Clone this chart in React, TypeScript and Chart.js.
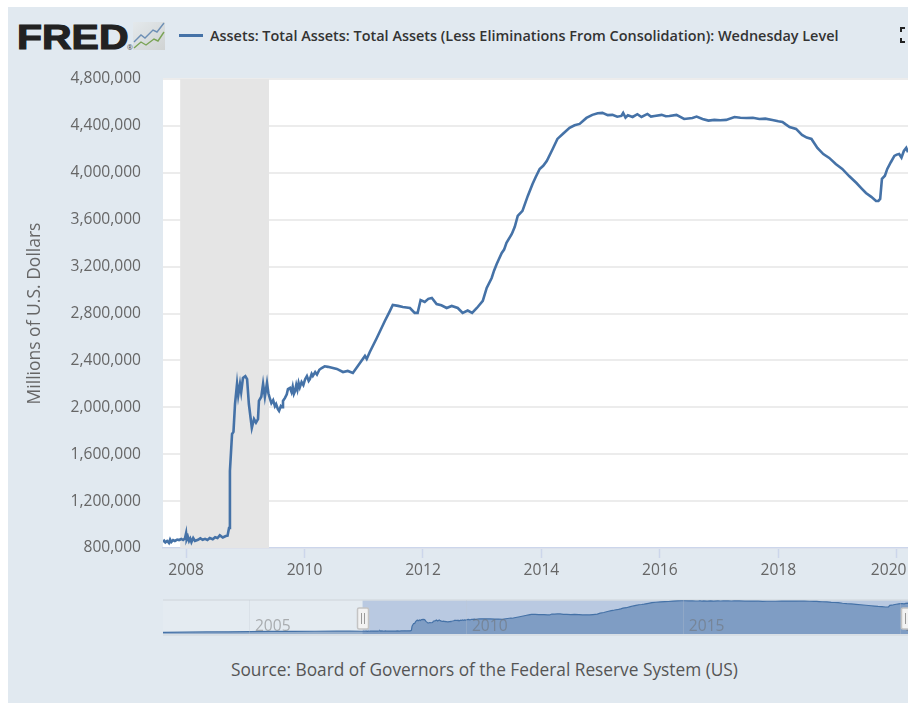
import React, { useEffect, useRef } from "react";
import { Chart, registerables } from "chart.js";

Chart.register(...registerables);

const legendText = "Assets: Total Assets: Total Assets (Less Eliminations From Consolidation): Wednesday Level";
const sourceText = "Source: Board of Governors of the Federal Reserve System (US)";
const yAxisTitle = "Millions of U.S. Dollars";
const logoText = "FRED";

const years = [
  2007.61, 2007.63, 2007.65, 2007.68, 2007.71, 2007.73, 2007.75, 2007.78, 2007.81, 2007.85, 2007.88, 2007.92, 2007.95, 2007.98, 2008.0, 2008.01, 2008.03, 2008.05, 2008.07, 2008.09,
  2008.12, 2008.15, 2008.2, 2008.24, 2008.28, 2008.32, 2008.36, 2008.4, 2008.45, 2008.49, 2008.53, 2008.57, 2008.62, 2008.67, 2008.7, 2008.725, 2008.74, 2008.776, 2008.8, 2008.826,
  2008.86, 2008.88, 2008.91, 2008.93, 2008.96, 2009.0, 2009.03, 2009.06, 2009.11, 2009.147, 2009.18, 2009.214, 2009.23, 2009.27, 2009.3, 2009.33, 2009.366, 2009.39,
  2009.417, 2009.44, 2009.47, 2009.5, 2009.52, 2009.55, 2009.57, 2009.6, 2009.62, 2009.636, 2009.67, 2009.7, 2009.72, 2009.754, 2009.78, 2009.8, 2009.82, 2009.84, 2009.86, 2009.88, 2009.9, 2009.92, 2009.95, 2009.98,
  2010.01, 2010.04, 2010.07, 2010.09, 2010.12, 2010.14, 2010.18, 2010.21, 2010.25, 2010.29, 2010.34, 2010.395, 2010.546, 2010.65,
  2010.73, 2010.816, 2010.9, 2011.02, 2011.05, 2011.1, 2011.22, 2011.356, 2011.43, 2011.49, 2011.58, 2011.66, 2011.78, 2011.86, 2011.91, 2011.96, 2012.03, 2012.09, 2012.15, 2012.23,
  2012.31, 2012.4, 2012.485, 2012.587, 2012.67, 2012.755, 2012.83, 2012.91, 2013.01, 2013.076, 2013.16, 2013.2, 2013.245, 2013.33, 2013.37, 2013.41, 2013.5, 2013.55, 2013.6, 2013.68,
  2013.77, 2013.85, 2013.9, 2013.97, 2014.03, 2014.09, 2014.19, 2014.27, 2014.36, 2014.475, 2014.56, 2014.645, 2014.76, 2014.86, 2014.95, 2015.03, 2015.12, 2015.2, 2015.28, 2015.35,
  2015.38, 2015.42, 2015.46, 2015.54, 2015.62, 2015.69, 2015.79, 2015.85, 2015.91, 2016.03, 2016.1, 2016.16, 2016.28, 2016.41, 2016.55, 2016.62, 2016.72, 2016.82, 2016.92, 2017.02,
  2017.12, 2017.26, 2017.36, 2017.46, 2017.57, 2017.68, 2017.78, 2017.9, 2018.0, 2018.07, 2018.12, 2018.19, 2018.3, 2018.4, 2018.48, 2018.56, 2018.66, 2018.76, 2018.86, 2018.97,
  2019.08, 2019.2, 2019.32, 2019.4, 2019.48, 2019.57, 2019.65, 2019.69, 2019.72, 2019.75, 2019.8, 2019.84, 2019.9, 2019.96, 2020.0, 2020.04, 2020.08, 2020.12, 2020.16, 2020.19,
];

const assets = [
  851000, 862000, 848000, 860000, 843000, 872000, 851000, 868000, 860000, 872000, 868000, 877000, 868000, 880000, 925000, 872000, 895000, 860000, 880000, 850000,
  885000, 860000, 870000, 882000, 870000, 878000, 868000, 885000, 875000, 892000, 885000, 908000, 890000, 902000, 905000, 971000, 1457000, 1772000, 1790000, 2028000,
  2199000, 2100000, 2199000, 2130000, 2250000, 2265000, 2240000, 2028000, 1824000, 1900000, 1870000, 1900000, 2054000, 2090000, 2199000, 2090000, 2207000, 2120000,
  2071000, 2035000, 2060000, 2010000, 2028000, 1985000, 1969000, 2010000, 2000000, 2054000, 2080000, 2110000, 2156000, 2165000, 2130000, 2175000, 2115000, 2139000, 2190000, 2150000, 2207000, 2170000, 2215000, 2190000,
  2240000, 2267000, 2225000, 2240000, 2285000, 2267000, 2300000, 2280000, 2320000, 2335000, 2350000, 2345000, 2327000, 2301000,
  2310000, 2293000, 2352000, 2438000, 2412000, 2470000, 2591000, 2736000, 2810000, 2873000, 2865000, 2856000, 2847000, 2805000, 2805000, 2915000, 2898000, 2925000, 2933000, 2881000,
  2870000, 2847000, 2864000, 2847000, 2805000, 2825000, 2805000, 2847000, 2907000, 3018000, 3103000, 3165000, 3223000, 3316000, 3345000, 3402000, 3478000, 3540000, 3632000, 3675000,
  3803000, 3905000, 3960000, 4033000, 4060000, 4101000, 4203000, 4289000, 4331000, 4383000, 4405000, 4417000, 4468000, 4494000, 4508000, 4511000, 4492000, 4494000, 4478000, 4485000,
  4510000, 4470000, 4490000, 4476000, 4500000, 4476000, 4502000, 4480000, 4485000, 4494000, 4482000, 4485000, 4494000, 4459000, 4468000, 4480000, 4459000, 4445000, 4451000, 4448000,
  4451000, 4476000, 4470000, 4468000, 4470000, 4459000, 4462000, 4451000, 4440000, 4434000, 4415000, 4391000, 4374000, 4323000, 4300000, 4289000, 4212000, 4160000, 4127000, 4075000,
  4033000, 3970000, 3913000, 3870000, 3828000, 3795000, 3760000, 3760000, 3777000, 3948000, 3975000, 4033000, 4090000, 4144000, 4155000, 4161000, 4130000, 4186000, 4212000, 4175000,
];

const earlyYears = [2003.0, 2003.5, 2004.0, 2004.5, 2005.0, 2005.5, 2006.0, 2006.5, 2007.0, 2007.3];
const earlyAssets = [725000, 745000, 770000, 785000, 810000, 825000, 840000, 850000, 865000, 860000];

const recessionStart = 2007.9;
const recessionEnd = 2009.4;
const mainMinYear = 2007.61;
const mainMaxYear = 2020.19;
const navMinYear = 2003.0;
const navMaxYear = 2020.17;
const selectStart = 2007.6;
const selectEnd = 2020.14;
const lastYearTick = 2020;

const toXY = (xs: number[], ys: number[]) => xs.map((x, i) => ({ x, y: ys[i] }));

const font = '"Open Sans", sans-serif';
const LINE = "#4572a7";

export default function App() {
  const mainRef = useRef<HTMLCanvasElement | null>(null);
  const navRef = useRef<HTMLCanvasElement | null>(null);

  useEffect(() => {
    const bandPlugin = {
      id: "band",
      beforeDraw(c: any) {
        const a = c.chartArea;
        c.ctx.save();
        c.ctx.fillStyle = "#ffffff";
        c.ctx.fillRect(a.left, a.top, a.right - a.left, a.bottom - a.top);
        c.ctx.restore();
      },
      beforeDatasetsDraw(c: any) {
        const a = c.chartArea;
        const x0 = c.scales.x.getPixelForValue(recessionStart);
        const x1 = c.scales.x.getPixelForValue(recessionEnd);
        c.ctx.save();
        c.ctx.fillStyle = "#e5e5e5";
        c.ctx.fillRect(x0, a.top, x1 - x0, a.bottom - a.top);
        c.ctx.restore();
      },
    };

    const main = new Chart(mainRef.current!, {
      type: "line",
      data: {
        datasets: [
          {
            data: toXY(years, assets),
            borderColor: LINE,
            borderWidth: 2.6,
            pointRadius: 0,
            tension: 0,
            fill: false,
          },
        ],
      },
      options: {
        animation: false,
        responsive: false,
        parsing: false,
        layout: { padding: { top: 79, right: 0, left: 0, bottom: 0 } },
        plugins: { legend: { display: false }, tooltip: { enabled: false } },
        scales: {
          x: {
            type: "linear",
            min: mainMinYear,
            max: mainMaxYear,
            afterFit: (s: any) => {
              s.height = 42;
              s.paddingLeft = 0;
              s.paddingRight = 0;
            },
            ticks: {
              stepSize: 2,
              includeBounds: false,
              maxRotation: 0,
              padding: 3,
              color: "#666666",
              font: { family: font, size: 15.6 },
              // the last label is kept inside the plot's right edge, as in the reference
              callback: (v: any) => (v === lastYearTick ? String(v) + "\u00a0\u00a0\u00a0\u00a0" : String(v)),
            },
            grid: { drawOnChartArea: false, tickLength: 10, tickColor: "#ccd6eb", tickWidth: 1.5 },
            border: { color: "#ccd6eb", width: 1.5 },
          },
          y: {
            type: "linear",
            min: 800000,
            max: 4800000,
            afterFit: (s: any) => {
              s.width = 163;
            },
            title: {
              display: true,
              text: yAxisTitle,
              color: "#666666",
              font: { family: font, size: 17.5 },
              padding: { top: 25, bottom: 0 },
            },
            ticks: {
              stepSize: 400000,
              padding: 22,
              color: "#666666",
              font: { family: font, size: 15.6 },
              callback: (v: any) => Number(v).toLocaleString("en-US"),
            },
            grid: { color: "#ececec", lineWidth: 2, drawTicks: false },
            border: { display: false },
          },
        },
      },
      plugins: [bandPlugin],
    } as any);

    const navPlugin = {
      id: "navMask",
      beforeDatasetsDraw(c: any) {
        const a = c.chartArea;
        const x0 = c.scales.x.getPixelForValue(selectStart);
        const ctx = c.ctx;
        ctx.save();
        ctx.fillStyle = "rgba(255,255,255,0.12)";
        ctx.fillRect(a.left, a.top, x0 - a.left, a.bottom - a.top);
        ctx.fillStyle = "#b9c9e1";
        ctx.fillRect(x0, a.top, a.right - x0, a.bottom - a.top);
        ctx.strokeStyle = "#d5dbe1";
        ctx.lineWidth = 1.5;
        ctx.beginPath();
        ctx.moveTo(a.left, a.top);
        ctx.lineTo(a.right, a.top);
        ctx.moveTo(a.left, a.bottom + 1);
        ctx.lineTo(a.right, a.bottom + 1);
        ctx.stroke();
        ctx.restore();
      },
      afterDraw(c: any) {
        const a = c.chartArea;
        const ctx = c.ctx;
        [selectStart, selectEnd].forEach((v) => {
          const x = Math.round(c.scales.x.getPixelForValue(v));
          const t = a.top + 8;
          ctx.save();
          ctx.fillStyle = "#f2f2f2";
          ctx.strokeStyle = "#c4c4c4";
          ctx.lineWidth = 1.5;
          ctx.beginPath();
          ctx.roundRect(x - 5.5, t, 11, 21, 1.5);
          ctx.fill();
          ctx.stroke();
          ctx.strokeStyle = "#9a9a9a";
          ctx.lineWidth = 1;
          ctx.beginPath();
          ctx.moveTo(x - 1.5, t + 5);
          ctx.lineTo(x - 1.5, t + 16);
          ctx.moveTo(x + 1.5, t + 5);
          ctx.lineTo(x + 1.5, t + 16);
          ctx.stroke();
          ctx.restore();
        });
      },
    };

    const nav = new Chart(navRef.current!, {
      type: "line",
      data: {
        datasets: [
          {
            data: toXY([...earlyYears, ...years], [...earlyAssets, ...assets]),
            borderColor: LINE,
            borderWidth: 1.2,
            backgroundColor: "rgba(69,114,167,0.5)",
            pointRadius: 0,
            tension: 0,
            fill: "origin",
          },
        ],
      },
      options: {
        animation: false,
        responsive: false,
        parsing: false,
        layout: { padding: { top: 10, right: 0, left: 163, bottom: 0 } },
        plugins: { legend: { display: false }, tooltip: { enabled: false } },
        scales: {
          x: {
            type: "linear",
            min: navMinYear,
            max: navMaxYear,
            afterFit: (s: any) => {
              s.height = 16;
              s.paddingLeft = 0;
              s.paddingRight = 0;
            },
            ticks: {
              z: 2,
              mirror: true,
              stepSize: 5,
              includeBounds: false,
              autoSkip: false,
              maxRotation: 0,
              padding: -2,
              labelOffset: 23,
              color: "rgba(110,110,110,0.5)",
              font: { family: font, size: 15.6 },
              callback: (v: any) => String(v),
            },
            grid: { z: 1, color: "rgba(190,198,208,0.28)", lineWidth: 1, drawTicks: false },
            border: { display: false },
          },
          y: {
            display: false,
            min: 520000,
            max: 4600000,
          },
        },
      },
      plugins: [navPlugin],
    } as any);

    return () => {
      main.destroy();
      nav.destroy();
    };
  }, []);

  const corner = (pos: any) => (
    <div style={{ position: "absolute", left: 900, width: 5, height: 5, boxSizing: "border-box", borderLeft: "2px solid #222", ...pos }} />
  );

  return (
    <div style={{ position: "fixed", left: 0, top: 0, width: 908, height: 703, background: "#ffffff", overflow: "hidden" }}>
      <div style={{ position: "absolute", left: 8, top: 7, width: 900, height: 696, background: "#e1e9f0" }} />
      <div
        style={{
          position: "absolute",
          left: 17,
          top: 14,
          fontFamily: '"Liberation Sans", sans-serif',
          fontWeight: 700,
          fontSize: 35,
          lineHeight: "46px",
          color: "#222222",
          transform: "scaleX(1.17)",
          transformOrigin: "left center",
          WebkitTextStroke: "1.2px #222222",
        }}
      >
        {logoText}
      </div>
      <div style={{ position: "absolute", left: 127, top: 44, fontFamily: font, fontSize: 7, lineHeight: "8px", color: "#444" }}>®</div>
      <svg style={{ position: "absolute", left: 133, top: 22 }} width={33} height={29} viewBox="0 0 33 29">
        <defs>
          <linearGradient id="g" x1="0" y1="0" x2="1" y2="1">
            <stop offset="0" stopColor="#e4e9ec" />
            <stop offset="1" stopColor="#d0d3d3" />
          </linearGradient>
        </defs>
        <rect x="0" y="0" width="32" height="28" fill="url(#g)" />
        <polyline points="1,20 8,13 12,16 20,8 24,10 31,1" fill="none" stroke="#6d8fb5" strokeWidth="1.4" />
        <polyline points="1,26 8,20 13,23 21,17 25,19 31,10" fill="none" stroke="#7aa356" strokeWidth="1.4" />
      </svg>
      <div style={{ position: "absolute", left: 179, top: 34, width: 24, height: 2.5, background: LINE }} />
      <div
        style={{
          position: "absolute",
          left: 210,
          top: 26,
          fontFamily: font,
          fontWeight: 600,
          fontSize: 14.45,
          lineHeight: "20px",
          color: "#333333",
          whiteSpace: "nowrap",
        }}
      >
        {legendText}
      </div>
      {corner({ top: 27, borderTop: "2px solid #222" })}
      {corner({ top: 38, borderBottom: "2px solid #222" })}
      <canvas ref={mainRef} width={908} height={590} style={{ position: "absolute", left: 0, top: 0, width: 908, height: 590 }} />
      <canvas ref={navRef} width={908} height={60} style={{ position: "absolute", left: 0, top: 590, width: 908, height: 60 }} />
      <div
        style={{
          position: "absolute",
          left: 231,
          top: 659,
          fontFamily: font,
          fontSize: 17.3,
          lineHeight: "22px",
          color: "#555555",
          whiteSpace: "nowrap",
        }}
      >
        {sourceText}
      </div>
    </div>
  );
}
